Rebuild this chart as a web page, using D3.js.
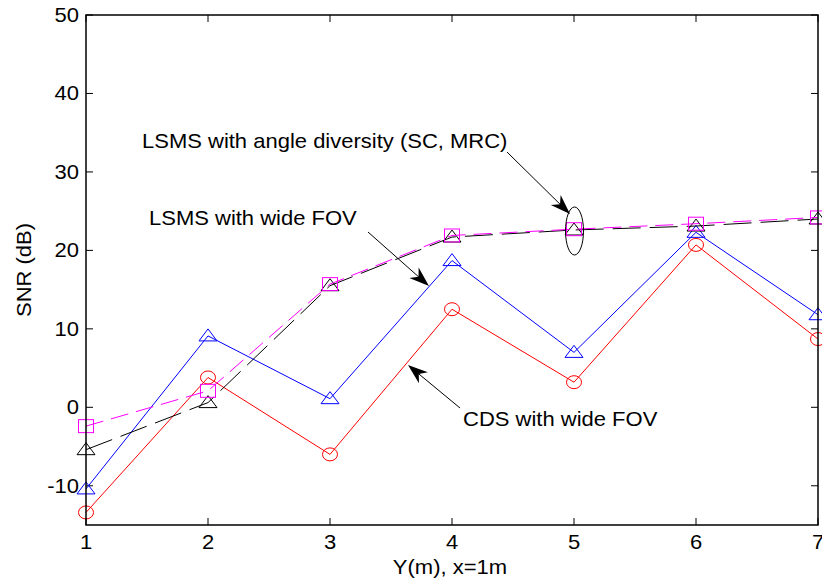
<!DOCTYPE html>
<html><head><meta charset="utf-8">
<script src="https://cdn.jsdelivr.net/npm/d3@7"></script>
<style>body{margin:0;background:#fff}svg{display:block}text{font-family:"Liberation Sans",Arial,sans-serif;fill:#000}</style>
</head><body><svg id="c" width="822" height="582"></svg>
<script>
const xVals = [1, 2, 3, 4, 5, 6, 7];
const xTicks = [1, 2, 3, 4, 5, 6, 7];
const yTicks = [-10, 0, 10, 20, 30, 40, 50];
const cdsWide  = [-13.4, 3.8, -6.0, 12.5, 3.2, 20.7, 8.7];
const lsmsWide = [-10.4, 9.1, 1.1, 18.7, 7.0, 22.3, 11.8];
const lsmsSC   = [-5.4, 0.6, 15.5, 21.7, 22.6, 23.1, 24.0];
const lsmsMRC  = [-2.4, 2.1, 15.7, 21.9, 22.7, 23.4, 24.2];
const xLabel = "Y(m), x=1m";
const yLabel = "SNR (dB)";

const svg = d3.select("#c");
const L = 86, R = 818, T = 15, B = 525;
const x = d3.scaleLinear().domain([1, 7]).range([L, R]);
const y = d3.scaleLinear().domain([-15, 50]).range([B, T]);
const SX = 1.1, FS = 20;

function txt(g, str, px, py, anchor, rot) {
  const t = g.append("text").text(str).attr("font-size", FS).attr("text-anchor", anchor || "start")
    .attr("transform", `translate(${px},${py})` + (rot ? ` rotate(${rot})` : "") + ` scale(${SX},1)`);
  return t;
}

// axes ticks
const ax = svg.append("g").attr("stroke", "#000").attr("stroke-width", 1);
xTicks.forEach(v => {
  ax.append("line").attr("x1", x(v)).attr("x2", x(v)).attr("y1", B).attr("y2", B - 7);
  ax.append("line").attr("x1", x(v)).attr("x2", x(v)).attr("y1", T).attr("y2", T + 7);
});
yTicks.forEach(v => {
  ax.append("line").attr("x1", L).attr("x2", L + 7).attr("y1", y(v)).attr("y2", y(v));
  ax.append("line").attr("x1", R).attr("x2", R - 7).attr("y1", y(v)).attr("y2", y(v));
});
const tg = svg.append("g");
xTicks.forEach(v => txt(tg, String(v), x(v), 549, "middle"));
yTicks.forEach(v => txt(tg, String(v), L - 7, y(v) + 7, "end"));
txt(tg, xLabel, (L + R) / 2 - 2, 574, "middle");
txt(tg, yLabel, 31, (T + B) / 2, "middle", -90);

// series
const line = d3.line().x((d, i) => x(xVals[i])).y(d => y(d));
const plot = svg.append("g");
function series(data, color, dash, marker) {
  plot.append("path").datum(data).attr("d", line).attr("fill", "none").attr("stroke", color)
    .attr("stroke-width", 1).attr("stroke-dasharray", dash);
  data.forEach((d, i) => {
    const cx = x(xVals[i]), cy = y(d);
    let m;
    if (marker === "circle") m = plot.append("ellipse").attr("cx", cx).attr("cy", cy).attr("rx", 7.5).attr("ry", 6.5);
    else if (marker === "square") m = plot.append("rect").attr("x", cx - 7.5).attr("y", cy - 6.5).attr("width", 15).attr("height", 13);
    else m = plot.append("path").attr("d", `M${cx},${cy - 7}L${cx + 9},${cy + 5}L${cx - 9},${cy + 5}Z`);
    m.attr("fill", "none").attr("stroke", color).attr("stroke-width", 1);
  });
}
series(cdsWide, "#ff0000", null, "circle");
series(lsmsWide, "#0000ff", null, "triangle");
series(lsmsSC, "#000000", "28,9", "triangle");
series(lsmsMRC, "#ff00ff", "18,8", "square");

// frame
svg.append("rect").attr("x", L).attr("y", T).attr("width", R - L).attr("height", B - T)
  .attr("fill", "none").attr("stroke", "#000").attr("stroke-width", 1.5);

// annotations
const an = svg.append("g");
function arrow(x1, y1, x2, y2) {
  const ang = Math.atan2(y2 - y1, x2 - x1), len = 20, hw = 7, notch = 6;
  const ux = Math.cos(ang), uy = Math.sin(ang), px = -uy, py = ux;
  const bx = x2 - ux * len, by = y2 - uy * len;
  an.append("line").attr("x1", x1).attr("y1", y1).attr("x2", x2 - ux * 10).attr("y2", y2 - uy * 10)
    .attr("stroke", "#000").attr("stroke-width", 1);
  const pts = [[x2, y2], [bx + px * hw, by + py * hw], [bx + ux * notch, by + uy * notch], [bx - px * hw, by - py * hw]];
  an.append("path").attr("d", "M" + pts.map(p => p.join(",")).join("L") + "Z").attr("fill", "#000");
}
arrow(507, 152, 570, 214);
arrow(368, 232, 429, 286);
arrow(460, 408, 408, 365);
an.append("ellipse").attr("cx", x(5) + 0.5).attr("cy", y(22.6) + 1).attr("rx", 9).attr("ry", 24)
  .attr("fill", "none").attr("stroke", "#000").attr("stroke-width", 1);
txt(an, "LSMS with angle diversity (SC, MRC)", 142, 148);
txt(an, "LSMS with wide FOV", 149, 225);
txt(an, "CDS with wide FOV", 463, 426);
</script></body></html>
